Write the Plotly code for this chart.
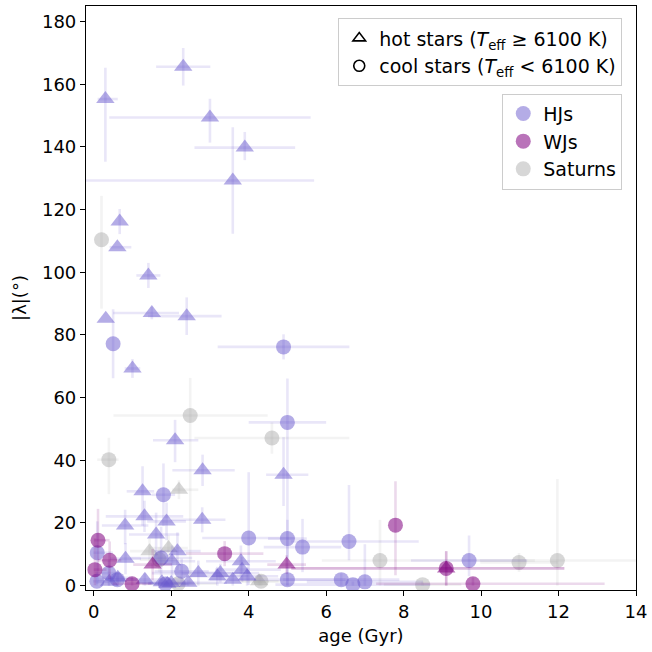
import plotly.graph_objects as go

# ---------------- data ----------------
# HJs around hot stars (triangles)
hj_hot_x = [2.31, 0.30, 3.0, 3.9, 3.59, 0.67, 0.61, 1.41, 0.31, 1.5, 2.4, 1.0, 2.1, 2.81, 4.9, 1.26,
            1.31, 1.88, 2.8, 0.81, 1.61, 0.82, 2.16, 2.02, 3.8, 3.83, 3.27, 3.19, 2.7, 3.59, 3.96,
            1.32, 0.62, 2.44, 1.76, 1.9, 2.0, 0.4]
hj_hot_y = [165.6, 155.3, 149.4, 139.8, 129.3, 116.2, 108.0, 99.0, 85.2, 87.0, 86.0, 69.3, 46.4, 36.8,
            35.4, 30.1, 22.1, 20.5, 21.0, 19.2, 16.3, 8.6, 11.0, 7.8, 7.8, 5.1, 4.0, 3.0, 4.0, 1.9,
            3.0, 1.9, 2.5, 0.9, 1.1, 0.6, 0.8, 1.2]
hj_hot_xm = [0.7, 0.2, 2.6, 1.3, 3.9, 0.0, 0.2, 0.31, 0.0, 1.0, 1.0, 0.2, 0.57, 0.78, 0.45, 0.41,
             1.0, 0.5, 0.8, 0.6, 0.7, 0.4, 0.6, 0.5, 0.9, 0.7, 1.0, 0.8, 1.2, 0.6, 0.8,
             1.0, 0.4, 1.0, 0.6, 0.5, 0.6, 0.3]
hj_hot_xp = [0.7, 0.32, 2.6, 1.3, 2.1, 0.0, 0.36, 0.31, 0.0, 0.7, 0.9, 0.2, 0.6, 0.83, 0.64, 0.3,
             1.0, 0.5, 0.6, 0.6, 0.6, 0.4, 0.6, 0.6, 0.9, 1.0, 1.0, 0.8, 1.2, 0.6, 0.8,
             1.0, 0.4, 1.0, 0.6, 0.5, 0.6, 0.3]
hj_hot_ym = [6, 20, 8, 4, 17, 4, 0, 4, 0, 2, 6, 3, 7, 5, 10, 11, 5, 6, 4, 6, 7, 5, 6, 5, 5, 4, 3, 3,
             4, 1.9, 3, 1.9, 2.5, 0.9, 1.1, 0.6, 0.8, 1.2]
hj_hot_yp = [6, 10, 6, 5, 17, 4, 0, 4, 0, 2, 6, 3, 6.5, 5, 12, 8, 5, 6, 4, 5, 7, 5, 6, 5, 5, 4, 3, 3,
             4, 2, 3, 2, 2, 1, 1, 1, 1, 1]

# HJs around cool stars (circles)
hj_cool_x = [0.5, 4.9, 5.0, 1.8, 5.0, 5.39, 4.0, 6.59, 9.69, 6.39, 6.69, 7.0, 0.09, 0.39, 0.08,
             0.61, 1.74, 2.27, 5.0, 1.85]
hj_cool_y = [77.2, 76.2, 52.1, 29.0, 15.0, 12.3, 15.2, 14.1, 8.0, 1.9, 0.3, 1.2, 10.5, 4.0, 1.4,
             1.9, 8.8, 4.6, 1.9, 0.5]
hj_cool_xm = [0.0, 1.7, 1.0, 0.3, 0.5, 1.0, 1.2, 1.5, 1.5, 1.5, 2.0, 1.5, 0.1, 0.3, 0.1, 0.5, 0.8,
              0.7, 1.5, 0.6]
hj_cool_xp = [0.0, 1.7, 1.0, 0.3, 0.5, 1.0, 1.2, 1.8, 1.5, 1.5, 2.0, 1.5, 0.4, 0.3, 0.3, 0.5, 0.8,
              0.7, 1.5, 0.6]
hj_cool_ym = [11, 4, 52, 10, 6, 8, 15, 6, 5, 1.9, 0.3, 1.2, 10, 4, 1.4, 1.9, 6, 4, 1.9, 0.5]
hj_cool_yp = [11, 4, 14, 10, 6, 9, 21, 18, 8, 2, 1, 12, 10, 4, 3, 2, 10, 4, 4, 1]

# WJs around hot stars (triangles)
wj_hot_x = [1.52, 4.98, 9.1]
wj_hot_y = [6.7, 6.7, 5.5]
wj_hot_xm = [0.5, 0.5, 4.0]
wj_hot_xp = [0.5, 0.5, 3.05]
wj_hot_ym = [5, 3, 5.5]
wj_hot_yp = [5, 3, 5.5]

# WJs around cool stars (circles)
wj_cool_x = [0.11, 0.03, 0.41, 0.99, 3.38, 7.79, 9.79, 9.1]
wj_cool_y = [14.5, 5.1, 8.1, 0.6, 10.2, 19.3, 0.6, 5.5]
wj_cool_xm = [0.1, 0.03, 0.3, 0.5, 1.0, 0.0, 2.5, 4.0]
wj_cool_xp = [0.3, 0.3, 0.3, 0.5, 1.0, 0.0, 3.4, 3.05]
wj_cool_ym = [10, 5, 6, 0.6, 4, 16, 0.6, 5.5]
wj_cool_yp = [10, 10, 6, 2, 4, 14, 2, 5.5]

# Saturns around hot stars (triangles)
sat_hot_x = [2.2, 1.44, 1.93, 4.27]
sat_hot_y = [30.6, 11.0, 12.0, 1.4]
sat_hot_xm = [0.18, 0.5, 0.5, 0.5]
sat_hot_xp = [0.5, 0.5, 0.5, 0.5]
sat_hot_ym = [3, 4, 4, 1.4]
sat_hot_yp = [3, 4, 4, 2]

# Saturns around cool stars (circles)
sat_cool_x = [0.2, 2.49, 4.6, 0.39, 7.39, 10.98, 11.97, 8.49, 2.18, 4.32, 1.69]
sat_cool_y = [110.4, 54.3, 47.1, 40.2, 8.0, 7.4, 8.0, 0.3, 0.6, 1.4, 8.3]
sat_cool_xm = [0.0, 1.98, 2.0, 0.3, 1.5, 1.0, 2.0, 1.0, 1.0, 0.5, 0.5]
sat_cool_xp = [0.0, 2.0, 2.0, 0.25, 4.0, 1.0, 2.3, 1.0, 1.0, 0.5, 0.5]
sat_cool_ym = [22, 54, 5, 11, 8, 3, 8, 0.3, 0.6, 1.4, 4]
sat_cool_yp = [14, 12, 5, 7, 13, 3, 26, 1, 1, 2, 4]

x_ticks = [0, 2, 4, 6, 8, 10, 12, 14]
y_ticks = [0, 20, 40, 60, 80, 100, 120, 140, 160, 180]

# ---------------- styles ----------------
HJ = (106, 90, 205)
WJ = (128, 0, 128)
SAT = (160, 160, 160)

def rgba(c, a):
    return f"rgba({c[0]},{c[1]},{c[2]},{a})"

FONT = "DejaVu Sans"
fig = go.Figure()

def add(x, y, xm, xp, ym, yp, col, malpha, ealpha, symbol, size):
    fig.add_trace(go.Scatter(
        x=x, y=y, mode="markers", showlegend=False, hoverinfo="skip",
        marker=dict(symbol=symbol, size=size, color=rgba(col, malpha), line=dict(width=0)),
        error_x=dict(type="data", symmetric=False, array=xp, arrayminus=xm,
                     color=rgba(col, ealpha), thickness=2.6, width=0),
        error_y=dict(type="data", symmetric=False, array=yp, arrayminus=ym,
                     color=rgba(col, ealpha), thickness=2.6, width=0),
    ))

add(sat_cool_x, sat_cool_y, sat_cool_xm, sat_cool_xp, sat_cool_ym, sat_cool_yp, SAT, 0.42, 0.13, "circle", 15)
add(sat_hot_x, sat_hot_y, sat_hot_xm, sat_hot_xp, sat_hot_ym, sat_hot_yp, SAT, 0.42, 0.13, "triangle-up", 16)
add(hj_cool_x, hj_cool_y, hj_cool_xm, hj_cool_xp, hj_cool_ym, hj_cool_yp, HJ, 0.5, 0.15, "circle", 15)
add(hj_hot_x, hj_hot_y, hj_hot_xm, hj_hot_xp, hj_hot_ym, hj_hot_yp, HJ, 0.5, 0.15, "triangle-up", 16)
add(wj_cool_x, wj_cool_y, wj_cool_xm, wj_cool_xp, wj_cool_ym, wj_cool_yp, WJ, 0.55, 0.15, "circle", 15)
add(wj_hot_x, wj_hot_y, wj_hot_xm, wj_hot_xp, wj_hot_ym, wj_hot_yp, WJ, 0.55, 0.15, "triangle-up", 16)

# legend 1: star types
fig.add_trace(go.Scatter(x=[None], y=[None], mode="markers", legend="legend",
                         name="hot stars (<i>T</i><sub>eff</sub> ≥ 6100 K)",
                         marker=dict(symbol="triangle-up-open", size=11, color="black", line=dict(width=1.6))))
fig.add_trace(go.Scatter(x=[None], y=[None], mode="markers", legend="legend",
                         name="cool stars (<i>T</i><sub>eff</sub> < 6100 K)",
                         marker=dict(symbol="circle-open", size=11, color="black", line=dict(width=1.6))))
# legend 2: planet classes
for nm, col, a in [("HJs", HJ, 0.5), ("WJs", WJ, 0.55), ("Saturns", SAT, 0.42)]:
    fig.add_trace(go.Scatter(x=[None], y=[None], mode="markers", legend="legend2", name=nm,
                             marker=dict(symbol="circle", size=15, color=rgba(col, a), line=dict(width=0))))

axis_common = dict(showline=True, linecolor="black", linewidth=1.2, mirror=True,
                   ticks="outside", ticklen=5, tickwidth=1.2, tickcolor="black",
                   showgrid=False, zeroline=False, tickfont=dict(family=FONT, size=18, color="black"))

fig.update_layout(
    width=652, height=652,
    margin=dict(l=86, r=12, t=5, b=62),
    paper_bgcolor="white", plot_bgcolor="white",
    font=dict(family=FONT, size=18, color="black"),
    xaxis=dict(range=[-0.2, 14], tickvals=x_ticks,
               title=dict(text="age (Gyr)", font=dict(family=FONT, size=18), standoff=8),
               **axis_common),
    yaxis=dict(range=[-1.4, 185], tickvals=y_ticks,
               title=dict(text="|λ|(°)", font=dict(family=FONT, size=18), standoff=10),
               **axis_common),
    legend=dict(x=0.975, y=0.979, xanchor="right", yanchor="top",
                bgcolor="rgba(255,255,255,0.85)", bordercolor="#cccccc", borderwidth=1,
                font=dict(family=FONT, size=19), itemwidth=30, tracegroupgap=0),
    legend2=dict(x=0.975, y=0.85, xanchor="right", yanchor="top",
                 bgcolor="rgba(255,255,255,0.85)", bordercolor="#cccccc", borderwidth=1,
                 font=dict(family=FONT, size=19), itemwidth=30),
)

fig.write_html("out.html", config={"displayModeBar": False},
               post_script="document.body.style.margin='0px';")
